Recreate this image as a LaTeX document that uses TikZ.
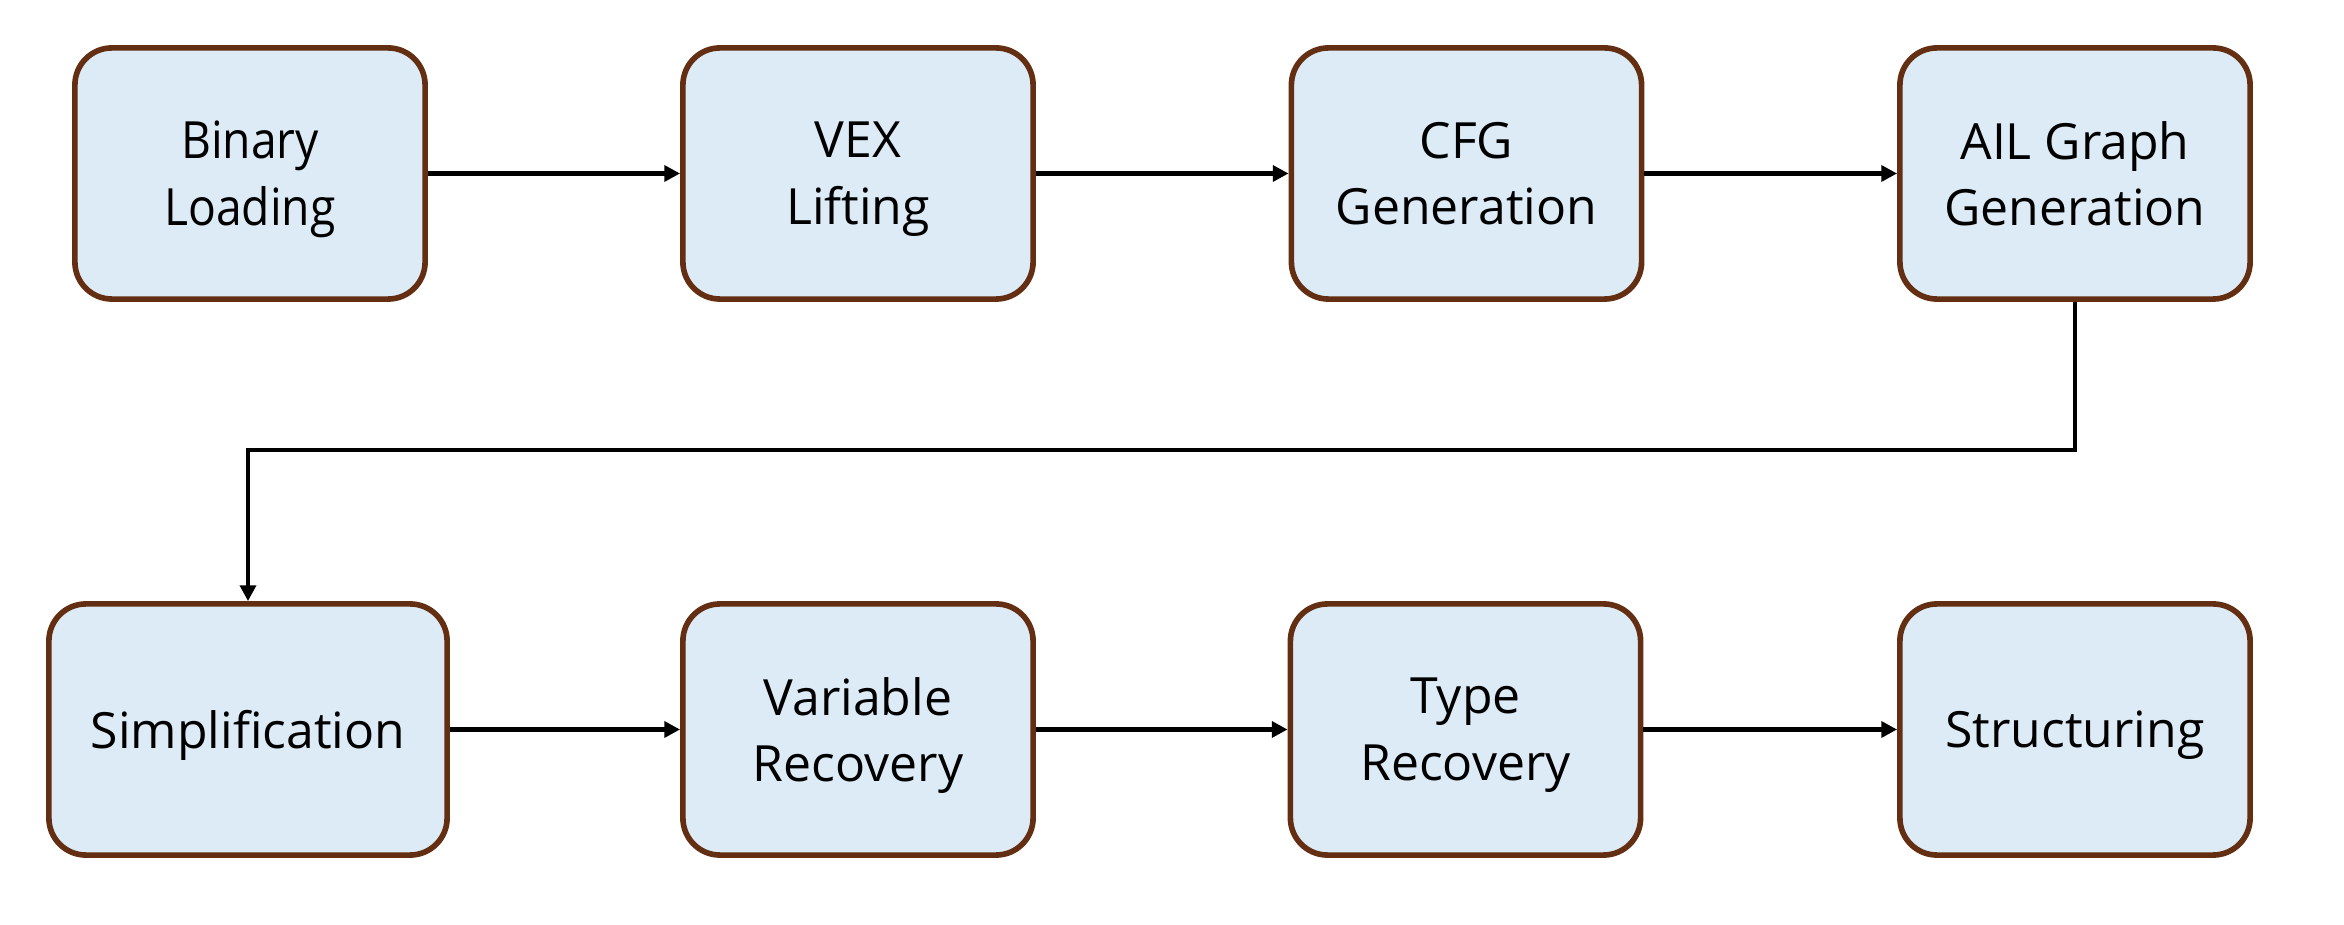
\documentclass[tikz,border=0pt]{standalone}
\usepackage{fontspec}
\setmainfont{Open Sans}
\newfontfamily\narrowfont[FakeStretch=0.9]{Open Sans}
\usetikzlibrary{arrows.meta}
\definecolor{boxfill}{RGB}{221,235,247}
\definecolor{boxline}{RGB}{99,46,17}
\tikzset{
  stage/.style={draw=boxline, fill=boxfill, line width=1.6pt, rounded corners=0.37cm,
    minimum width=3.5cm, minimum height=2.51cm, align=center, inner sep=0pt, text depth=0pt,
    font=\fontsize{14.2}{19}\selectfont},
  flow/.style={line width=1.35pt, -{Triangle[length=4.5pt,width=4.5pt]}}
}
\begin{document}
\begin{tikzpicture}[x=0.01cm,y=-0.01cm]
\useasboundingbox (0,0) rectangle (2344,925);
\node[stage, font=\narrowfont\fontsize{14.6}{19}\selectfont] (b1) at (250,173.5) {Binary\\Loading};
\node[stage] (b2) at (858,173.5) {VEX\\Lifting};
\node[stage] (b3) at (1466.5,173.5) {CFG\\Generation};
\node[stage] (b4) at (2075,173.5) {AIL Graph\\Generation};
\node[stage, minimum width=3.98cm] (b5) at (248,729.5) {Simplification};
\node[stage] (b6) at (858,729.5) {Variable\\Recovery};
\node[stage] (b7) at (1465.5,729.5) {Type\\Recovery};
\node[stage] (b8) at (2075,729.5) {Structuring};
\draw[flow] (b1) -- (b2);
\draw[flow] (b2) -- (b3);
\draw[flow] (b3) -- (b4);
\draw[flow] (b4.south) -- (2075,450) -| (b5.north);
\draw[flow] (b5) -- (b6);
\draw[flow] (b6) -- (b7);
\draw[flow] (b7) -- (b8);
\end{tikzpicture}
\end{document}
